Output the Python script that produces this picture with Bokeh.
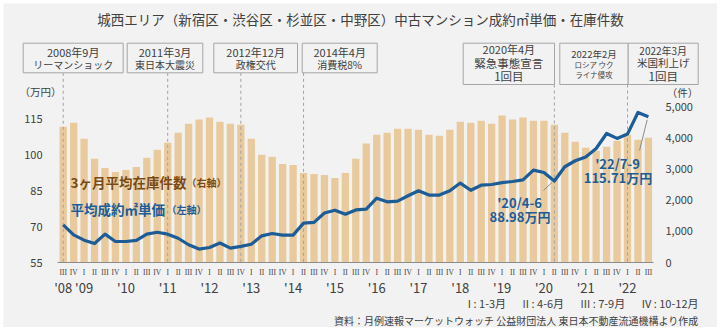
from bokeh.plotting import figure
from bokeh.models import (Range1d, LinearAxis, FixedTicker, NumeralTickFormatter,
                          Label, ColumnDataSource)
from bokeh.embed import file_html
from bokeh.resources import INLINE

# ---------------- data ----------------
quarter_labels = ["III", "IV"] + ["I", "II", "III", "IV"] * 13 + ["I", "II", "III"]
year_labels = ["'08", "'09", "'10", "'11", "'12", "'13", "'14", "'15",
               "'16", "'17", "'18", "'19", "'20", "'21", "'22"]
year_first_quarter = [0, 2, 6, 10, 14, 18, 22, 26, 30, 34, 38, 42, 46, 50, 54]

inventory = [4354, 4483, 3967, 3322, 3032, 2903, 2967, 3064, 3354, 3612,
             3838, 4160, 4451, 4580, 4644, 4515, 4451, 4418, 3967, 3451,
             3386, 3161, 3128, 2870, 2838, 2806, 2709, 2870, 3322, 3816,
             4096, 4160, 4289, 4289, 4257, 4096, 4064, 4257, 4515, 4483,
             4547, 4451, 4709, 4580, 4644, 4547, 4547, 4418, 4160, 3870,
             3677, 3580, 3709, 3902, 4096, 3935, 3999]

price = [70.7, 66.5, 64.3, 62.9, 66.8, 63.75, 63.75, 64.2, 66.8, 67.6,
         66.8, 65.1, 62.4, 60.6, 61.25, 63.1, 61.0, 61.7, 62.6, 66.1,
         67.1, 66.4, 66.4, 71.4, 71.7, 75.6, 76.8, 75.1, 76.9, 77.2,
         81.8, 80.3, 80.6, 82.8, 84.9, 83.1, 83.1, 84.9, 88.1, 85.1,
         87.2, 87.5, 88.3, 88.75, 89.4, 93.5, 92.5, 88.98, 94.9, 97.4,
         99.0, 102.5, 108.75, 106.7, 108.5, 117.5, 115.71]

left_ticks = [55, 70, 85, 100, 115]
right_ticks = [0, 1000, 2000, 3000, 4000, 5000]

event_quarter = [0, 10, 17, 23, 47, 54]
event_texts = [["2008年9月", "リーマンショック"],
               ["2011年3月", "東日本大震災"],
               ["2012年12月", "政権交代"],
               ["2014年4月", "消費税8%"],
               ["2020年4月", "緊急事態宣言", "1回目"],
               ["2022年2月", "ロシア ウク", "ライナ侵攻"],
               ["2022年3月", "米国利上げ", "1回目"]]

x = list(range(len(inventory)))

# ---------------- layout helpers (page px -> data) ----------------
X0, DX, Y0, DY = 62.7, 10.45, 262.0, 2.4
INV_PER_PX = 5000 / 156.0


def dx(px):
    return (px - X0) / DX


def dy(py):
    return 55 + (Y0 - py) / DY


def dinv(py):
    return (Y0 - py) * INV_PER_PX


FONT = "Noto Sans CJK JP"
BLUE = "#1d5d97"
BROWN = "#7a4a12"
GREY_T = "#404040"
BG = "#f2f2f2"

# frame covers the whole grey panel (page px 3..717 x 3..327)
p = figure(width=714, height=324, output_backend="svg", toolbar_location=None,
           x_axis_type=None, y_axis_type=None,
           x_range=Range1d(dx(3), dx(717)), y_range=Range1d(dy(327), dy(3)),
           min_border=0)
p.margin = (3, 3, 3, 3)
p.extra_y_ranges = {"inv": Range1d(dinv(327), dinv(3))}
p.background_fill_color = BG
p.border_fill_color = BG
p.outline_line_color = None

src = ColumnDataSource(dict(x=x, inv=inventory, price=price))
p.vbar(x="x", top="inv", width=0.7, bottom=0, source=src, y_range_name="inv",
       fill_color="#e9ca9c", line_color=None)

# dashed event lines
box_bottom_px = [72.3, 72.3, 72.3, 72.3, 84.0, 84.0]
p.segment(x0=event_quarter, x1=event_quarter,
          y0=[dy(b) for b in box_bottom_px], y1=[55] * len(event_quarter),
          line_color="#a0a0a0", line_width=1, line_dash="3 3")

p.line("x", "price", source=src, line_color=BLUE, line_width=3.2,
       line_join="round")

frame_l, frame_r = dx(57), dx(653)


def plain(ax, standoff, font, size):
    ax.major_tick_line_color = None
    ax.minor_tick_line_color = None
    ax.major_tick_out = 0
    ax.major_tick_in = 0
    ax.minor_tick_out = 0
    ax.minor_tick_in = 0
    ax.major_label_standoff = standoff
    ax.major_label_text_font = font
    ax.major_label_text_font_size = size
    ax.major_label_text_color = GREY_T


# axes (fixed inside the panel)
left = LinearAxis(ticker=FixedTicker(ticks=left_ticks), fixed_location=frame_l)
left.axis_line_color = None
plain(left, 15, FONT, "11px")
p.add_layout(left, "left")

right = LinearAxis(y_range_name="inv", ticker=FixedTicker(ticks=right_ticks),
                   formatter=NumeralTickFormatter(format="0,0"), fixed_location=frame_r)
right.axis_line_color = None
plain(right, 12, FONT, "11px")
p.add_layout(right, "right")

b1 = LinearAxis(ticker=FixedTicker(ticks=x), fixed_location=55,
                major_label_overrides={i: quarter_labels[i] for i in x})
b1.bounds = (frame_l, frame_r)
b1.axis_line_color = "#8c8c8c"
b1.axis_line_width = 1
plain(b1, 5, "Liberation Serif", "7.5px")
p.add_layout(b1, "below")

b2 = LinearAxis(ticker=FixedTicker(ticks=year_first_quarter), fixed_location=55,
                major_label_overrides={q: t for q, t in zip(year_first_quarter, year_labels)})
b2.axis_line_color = None
plain(b2, 15, FONT, "13px")
p.add_layout(b2, "below")


def lab(px, py, text, size, color=GREY_T, align="center", bold=False, font=FONT):
    p.add_layout(Label(x=dx(px), y=dy(py), text=text, text_font=font,
                       text_font_size=size, text_color=color, text_align=align,
                       text_baseline="middle",
                       text_font_style="bold" if bold else "normal"))


# title
lab(360, 18, "城西エリア（新宿区・渋谷区・杉並区・中野区）中古マンション成約㎡単価・在庫件数",
    "13.5px", "#404040")

# event boxes
boxes_px = [(22.7, 122.7, 42.7, 72.3), (126.7, 202.3, 42.7, 72.3),
            (213.3, 297.0, 42.7, 72.3), (301.7, 376.7, 42.7, 72.3),
            (462.7, 554.0, 42.7, 84.0), (559.3, 627.7, 42.7, 84.0),
            (627.7, 697.7, 42.7, 84.0)]
p.quad(left=[dx(b[0]) for b in boxes_px], right=[dx(b[1]) for b in boxes_px],
       top=[dy(b[2]) for b in boxes_px], bottom=[dy(b[3]) for b in boxes_px],
       fill_color=BG, line_color="#a6a6a6", line_width=1)

line_y_2 = [51.7, 64.3]
for k in range(4):
    l, r, t, b = boxes_px[k]
    cx = (l + r) / 2
    lab(cx, line_y_2[0], event_texts[k][0], "11px")
    lab(cx, line_y_2[1], event_texts[k][1], "10px")

# box 5
l, r, t, b = boxes_px[4]
cx = (l + r) / 2
lab(cx, 48.5, event_texts[4][0], "11px")
lab(cx, 62.5, event_texts[4][1], "11.5px")
lab(cx, 75.5, event_texts[4][2], "11.5px")
# box 6
l, r, t, b = boxes_px[5]
cx = (l + r) / 2
lab(cx, 53.3, event_texts[5][0], "9.5px")
lab(cx, 63.5, event_texts[5][1], "7.5px")
lab(cx, 73.5, event_texts[5][2], "7.5px")
# box 7
l, r, t, b = boxes_px[6]
cx = (l + r) / 2
lab(cx, 50, event_texts[6][0], "10px")
lab(cx, 62, event_texts[6][1], "10.5px")
lab(cx, 75.5, event_texts[6][2], "11.5px")

# units
lab(40, 91, "（万円）", "10.5px")
lab(682, 92, "（件）", "10.5px")

# series labels
lab(70, 181, "3ヶ月平均在庫件数", "13.5px", BROWN, "left", True)
lab(186, 181.5, "（右軸）", "10px", BROWN, "left", True)
lab(70, 208, "平均成約㎡単価", "13.5px", BLUE, "left", True)
lab(166, 209, "（左軸）", "10px", BLUE, "left", True)

# callouts
lab(519, 201.7, "'20/4-6", "13px", BLUE, bold=True)
lab(519.5, 215.5, "88.98万円", "13px", BLUE, bold=True)
lab(617, 162.7, "'22/7-9", "13px", BLUE, bold=True)
lab(617.5, 177, "115.71万円", "13px", BLUE, bold=True)
p.segment(x0=[dx(551.7), dx(646.7)], y0=[dy(181.7), dy(119.3)],
          x1=[dx(543), dx(639)], y1=[dy(190), dy(150)],
          line_color="#8c8c8c", line_width=1)

# notes
GAP = "\u3000\u2002"
lab(698, 302.7, "I : 1-3月" + GAP + "II : 4-6月" + GAP + "III : 7-9月" + GAP + "IV : 10-12月",
    "11px", GREY_T, "right")
lab(698, 320, "資料：月例速報マーケットウォッチ 公益財団法人 東日本不動産流通機構より作成",
    "10px", GREY_T, "right")

open("out.html", "w").write(file_html(p, INLINE))
